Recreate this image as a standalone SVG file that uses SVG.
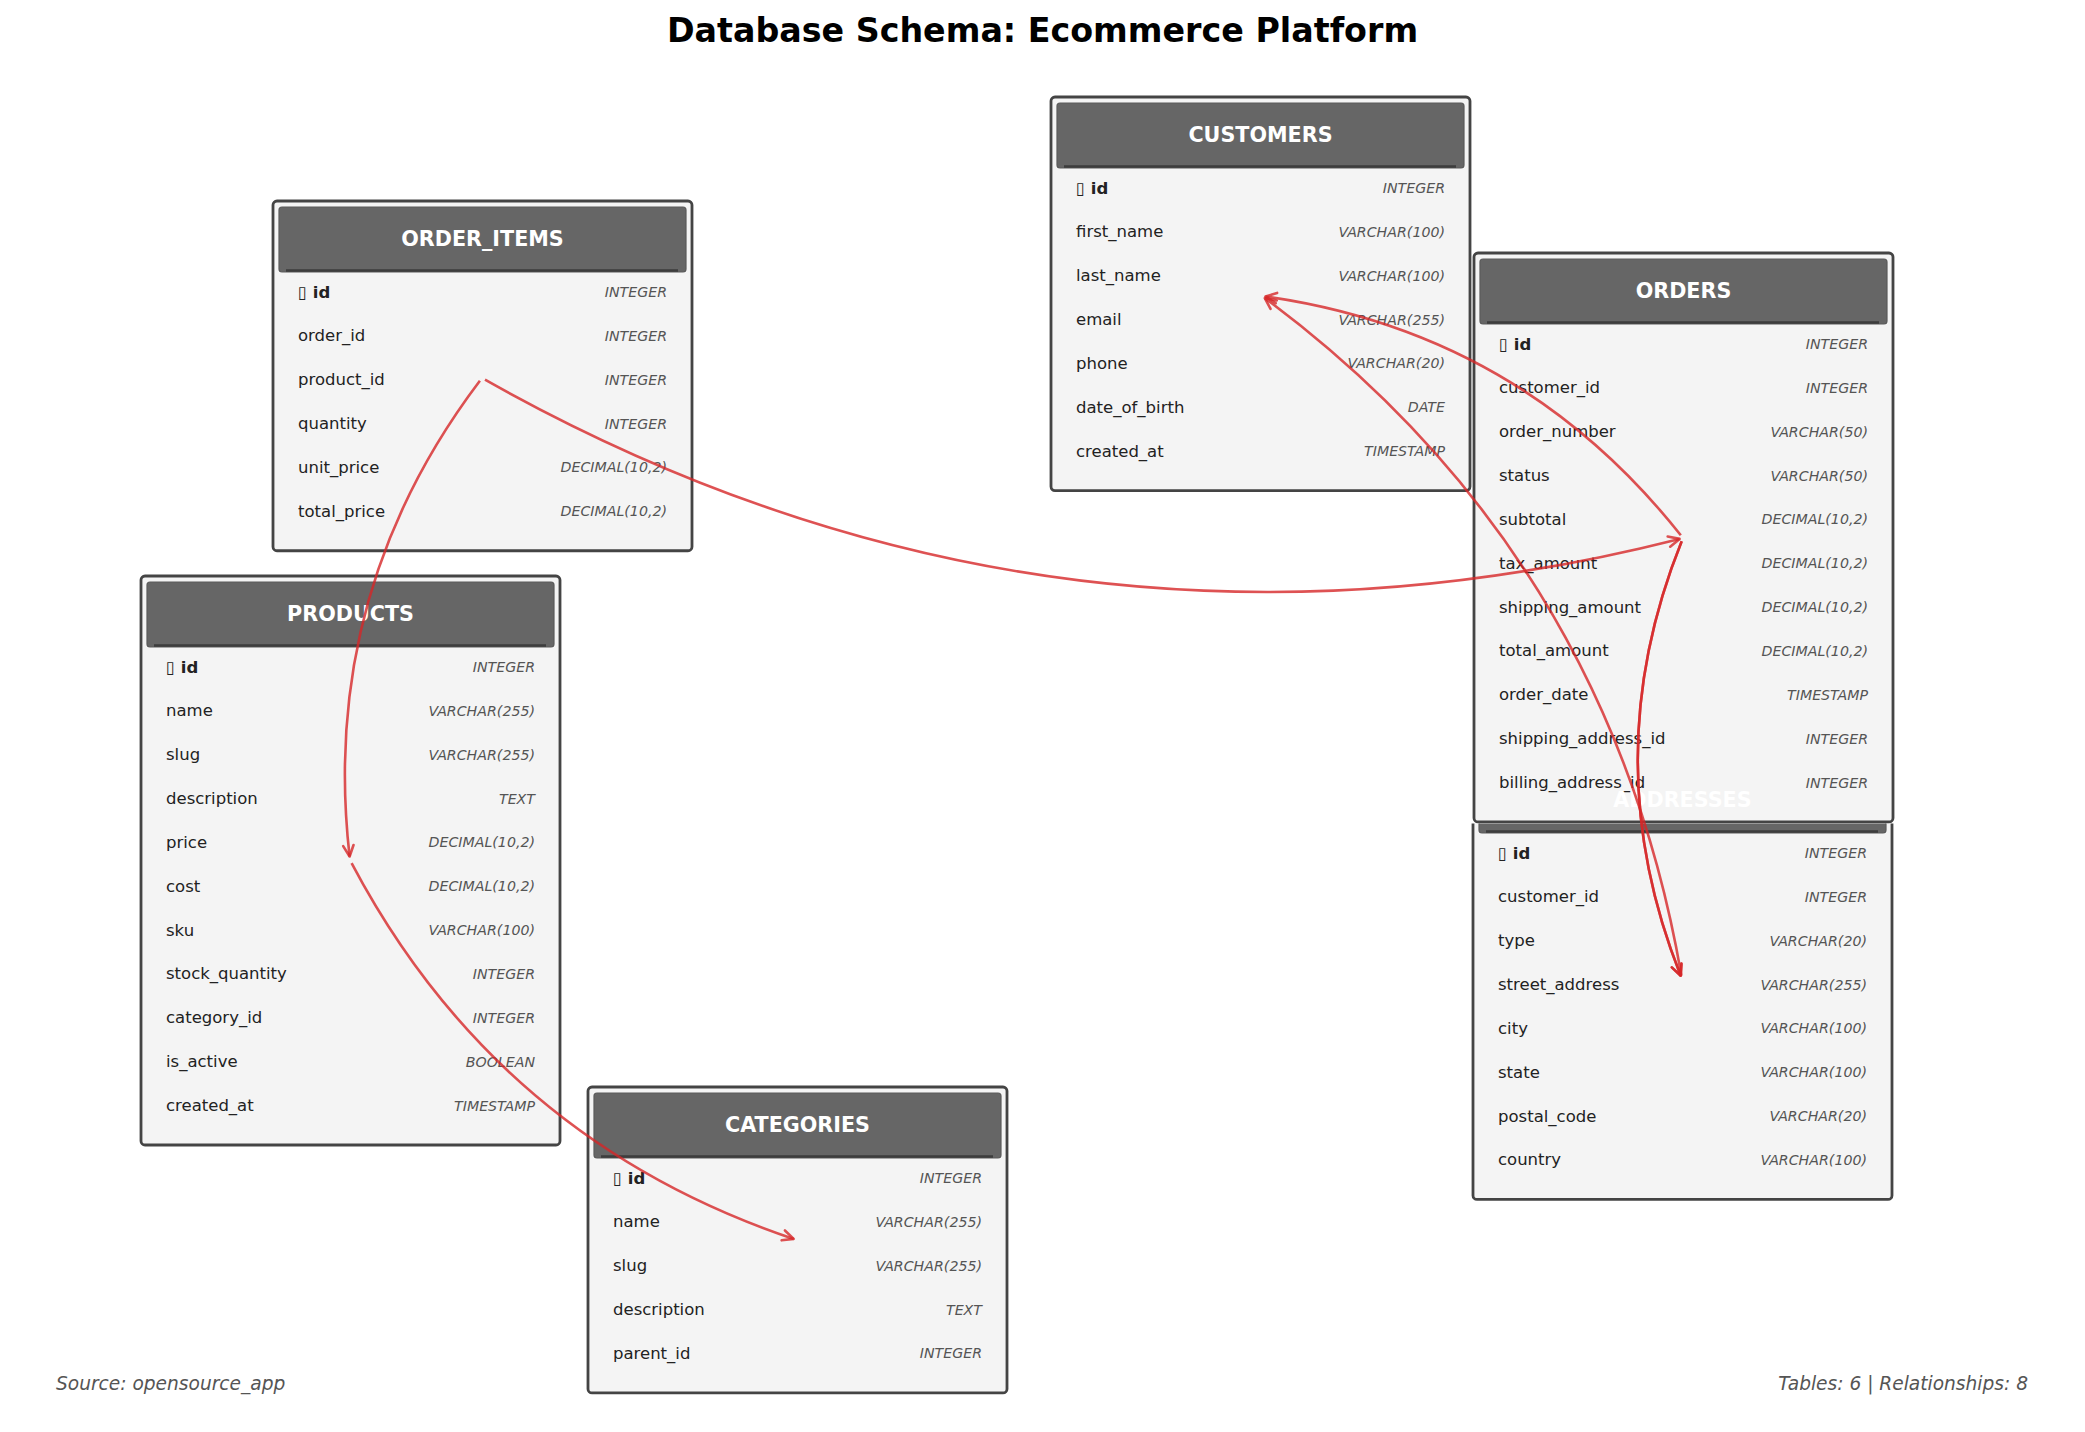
<svg xmlns="http://www.w3.org/2000/svg" width="2085" height="1432" viewBox="0 0 2085 1432">
<defs>
<style>
.box{fill:#f4f4f4;stroke:#444;stroke-width:2.8}
.hdr{fill:#666;stroke:#5a5a5a;stroke-width:1.2}
.sep{stroke:#3d3d3d;stroke-width:2.5}
.ttl{font-family:"DejaVu Sans",sans-serif;font-weight:bold;font-size:20.7px;fill:#fff;text-anchor:middle;dominant-baseline:central}
.fn{font-family:"DejaVu Sans",sans-serif;font-size:16.5px;fill:#222;dominant-baseline:central}
.pk{font-weight:bold}
.ty{font-family:"DejaVu Sans",sans-serif;font-style:italic;font-size:14.2px;fill:#555;text-anchor:end;dominant-baseline:central}
.rel{fill:none;stroke:#d62728;stroke-opacity:.8;stroke-width:2.6;marker-end:url(#arr)}
.title{font-family:"DejaVu Sans",sans-serif;font-weight:bold;font-size:33.3px;fill:#000;text-anchor:middle;dominant-baseline:central}
.foot{font-family:"DejaVu Sans",sans-serif;font-style:italic;font-size:18.6px;fill:#555;dominant-baseline:central}
</style>
<marker id="arr" markerUnits="userSpaceOnUse" orient="auto" markerWidth="30" markerHeight="30" viewBox="-15 -15 30 30" refX="0" refY="0" overflow="visible">
<path d="M-11,-5.2 L0,0 L-11,5.2" fill="none" stroke="#d62728" stroke-opacity="0.8" stroke-width="2.6" stroke-linecap="round" stroke-linejoin="round"/>
</marker>
<clipPath id="clipAddr"><rect x="1455" y="823.5" width="460" height="400"/></clipPath>
</defs>
<rect x="0" y="0" width="2085" height="1432" fill="#fff"/>
<text class="title" x="1042.5" y="30">Database Schema: Ecommerce Platform</text>

<g id="order_items">
<rect class="box" x="273" y="201" width="419" height="349.75" rx="4"/>
<rect class="hdr" x="279" y="207" width="407" height="65" rx="3"/>
<line class="sep" x1="286" y1="270.5" x2="678" y2="270.5"/>
<text class="ttl" x="482.5" y="239">ORDER_ITEMS</text>
<text class="fn pk" x="298" y="292">▯ id</text><text class="ty" x="667" y="292">INTEGER</text>
<text class="fn" x="298" y="335.85">order_id</text><text class="ty" x="667" y="335.85">INTEGER</text>
<text class="fn" x="298" y="379.7">product_id</text><text class="ty" x="667" y="379.7">INTEGER</text>
<text class="fn" x="298" y="423.55">quantity</text><text class="ty" x="667" y="423.55">INTEGER</text>
<text class="fn" x="298" y="467.4">unit_price</text><text class="ty" x="667" y="467.4">DECIMAL(10,2)</text>
<text class="fn" x="298" y="511.25">total_price</text><text class="ty" x="667" y="511.25">DECIMAL(10,2)</text>
</g>

<g id="customers">
<rect class="box" x="1051" y="97" width="419" height="393.6" rx="4"/>
<rect class="hdr" x="1057" y="103" width="407" height="65" rx="3"/>
<line class="sep" x1="1064" y1="166.5" x2="1456" y2="166.5"/>
<text class="ttl" x="1260.5" y="135">CUSTOMERS</text>
<text class="fn pk" x="1076" y="188">▯ id</text><text class="ty" x="1445" y="188">INTEGER</text>
<text class="fn" x="1076" y="231.85">first_name</text><text class="ty" x="1445" y="231.85">VARCHAR(100)</text>
<text class="fn" x="1076" y="275.7">last_name</text><text class="ty" x="1445" y="275.7">VARCHAR(100)</text>
<text class="fn" x="1076" y="319.55">email</text><text class="ty" x="1445" y="319.55">VARCHAR(255)</text>
<text class="fn" x="1076" y="363.4">phone</text><text class="ty" x="1445" y="363.4">VARCHAR(20)</text>
<text class="fn" x="1076" y="407.25">date_of_birth</text><text class="ty" x="1445" y="407.25">DATE</text>
<text class="fn" x="1076" y="451.1">created_at</text><text class="ty" x="1445" y="451.1">TIMESTAMP</text>
</g>

<g id="products">
<rect class="box" x="141" y="576" width="419" height="569" rx="4"/>
<rect class="hdr" x="147" y="582" width="407" height="65" rx="3"/>
<line class="sep" x1="154" y1="645.5" x2="546" y2="645.5"/>
<text class="ttl" x="350.5" y="614">PRODUCTS</text>
<text class="fn pk" x="166" y="667">▯ id</text><text class="ty" x="535" y="667">INTEGER</text>
<text class="fn" x="166" y="710.85">name</text><text class="ty" x="535" y="710.85">VARCHAR(255)</text>
<text class="fn" x="166" y="754.7">slug</text><text class="ty" x="535" y="754.7">VARCHAR(255)</text>
<text class="fn" x="166" y="798.55">description</text><text class="ty" x="535" y="798.55">TEXT</text>
<text class="fn" x="166" y="842.4">price</text><text class="ty" x="535" y="842.4">DECIMAL(10,2)</text>
<text class="fn" x="166" y="886.25">cost</text><text class="ty" x="535" y="886.25">DECIMAL(10,2)</text>
<text class="fn" x="166" y="930.1">sku</text><text class="ty" x="535" y="930.1">VARCHAR(100)</text>
<text class="fn" x="166" y="973.95">stock_quantity</text><text class="ty" x="535" y="973.95">INTEGER</text>
<text class="fn" x="166" y="1017.8">category_id</text><text class="ty" x="535" y="1017.8">INTEGER</text>
<text class="fn" x="166" y="1061.65">is_active</text><text class="ty" x="535" y="1061.65">BOOLEAN</text>
<text class="fn" x="166" y="1105.5">created_at</text><text class="ty" x="535" y="1105.5">TIMESTAMP</text>
</g>

<g id="categories">
<rect class="box" x="588" y="1087" width="419" height="305.9" rx="4"/>
<rect class="hdr" x="594" y="1093" width="407" height="65" rx="3"/>
<line class="sep" x1="601" y1="1156.5" x2="993" y2="1156.5"/>
<text class="ttl" x="797.5" y="1125">CATEGORIES</text>
<text class="fn pk" x="613" y="1178">▯ id</text><text class="ty" x="982" y="1178">INTEGER</text>
<text class="fn" x="613" y="1221.85">name</text><text class="ty" x="982" y="1221.85">VARCHAR(255)</text>
<text class="fn" x="613" y="1265.7">slug</text><text class="ty" x="982" y="1265.7">VARCHAR(255)</text>
<text class="fn" x="613" y="1309.55">description</text><text class="ty" x="982" y="1309.55">TEXT</text>
<text class="fn" x="613" y="1353.4">parent_id</text><text class="ty" x="982" y="1353.4">INTEGER</text>
</g>

<g id="orders">
<rect class="box" x="1474" y="253" width="419" height="569" rx="4"/>
<rect class="hdr" x="1480" y="259" width="407" height="65" rx="3"/>
<line class="sep" x1="1487" y1="322.5" x2="1879" y2="322.5"/>
<text class="ttl" x="1683.5" y="291">ORDERS</text>
<text class="fn pk" x="1499" y="344">▯ id</text><text class="ty" x="1868" y="344">INTEGER</text>
<text class="fn" x="1499" y="387.85">customer_id</text><text class="ty" x="1868" y="387.85">INTEGER</text>
<text class="fn" x="1499" y="431.7">order_number</text><text class="ty" x="1868" y="431.7">VARCHAR(50)</text>
<text class="fn" x="1499" y="475.55">status</text><text class="ty" x="1868" y="475.55">VARCHAR(50)</text>
<text class="fn" x="1499" y="519.4">subtotal</text><text class="ty" x="1868" y="519.4">DECIMAL(10,2)</text>
<text class="fn" x="1499" y="563.25">tax_amount</text><text class="ty" x="1868" y="563.25">DECIMAL(10,2)</text>
<text class="fn" x="1499" y="607.1">shipping_amount</text><text class="ty" x="1868" y="607.1">DECIMAL(10,2)</text>
<text class="fn" x="1499" y="650.95">total_amount</text><text class="ty" x="1868" y="650.95">DECIMAL(10,2)</text>
<text class="fn" x="1499" y="694.8">order_date</text><text class="ty" x="1868" y="694.8">TIMESTAMP</text>
<text class="fn" x="1499" y="738.65">shipping_address_id</text><text class="ty" x="1868" y="738.65">INTEGER</text>
<text class="fn" x="1499" y="782.5">billing_address_id</text><text class="ty" x="1868" y="782.5">INTEGER</text>
</g>

<g id="addresses">
<g clip-path="url(#clipAddr)">
<rect class="box" x="1473" y="762" width="419" height="437.45" rx="4"/>
<rect class="hdr" x="1479" y="768" width="407" height="65" rx="3"/>
<line class="sep" x1="1486" y1="831.5" x2="1878" y2="831.5"/>
</g>
<text class="ttl" x="1682.5" y="800">ADDRESSES</text>
<text class="fn pk" x="1498" y="853">▯ id</text><text class="ty" x="1867" y="853">INTEGER</text>
<text class="fn" x="1498" y="896.85">customer_id</text><text class="ty" x="1867" y="896.85">INTEGER</text>
<text class="fn" x="1498" y="940.7">type</text><text class="ty" x="1867" y="940.7">VARCHAR(20)</text>
<text class="fn" x="1498" y="984.55">street_address</text><text class="ty" x="1867" y="984.55">VARCHAR(255)</text>
<text class="fn" x="1498" y="1028.4">city</text><text class="ty" x="1867" y="1028.4">VARCHAR(100)</text>
<text class="fn" x="1498" y="1072.25">state</text><text class="ty" x="1867" y="1072.25">VARCHAR(100)</text>
<text class="fn" x="1498" y="1116.1">postal_code</text><text class="ty" x="1867" y="1116.1">VARCHAR(20)</text>
<text class="fn" x="1498" y="1159.95">country</text><text class="ty" x="1867" y="1159.95">VARCHAR(100)</text>
</g>

<g id="connectors">
<path class="rel" d="M479.9,380.8 Q319.6,592.6 349.6,856.5"/>
<path class="rel" d="M485,379.7 Q1050.5,698.2 1679.6,538.9"/>
<path class="rel" d="M1680.8,535.3 Q1520.9,332.8 1265.5,296.5"/>
<path class="rel" d="M1681.4,975.6 Q1608.6,553.5 1264.8,298.1"/>
<path class="rel" d="M1681.7,541.2 Q1594.3,758.3 1680.7,975.7"/>
<path class="rel" d="M1681.7,541.2 Q1594.3,758.3 1680.7,975.7"/>
<path class="rel" d="M351.6,863.1 Q497.5,1139.4 793.7,1238.9"/>
</g>

<text class="foot" x="56" y="1383">Source: opensource_app</text>
<text class="foot" x="2028" y="1383" text-anchor="end">Tables: 6 | Relationships: 8</text>
</svg>
